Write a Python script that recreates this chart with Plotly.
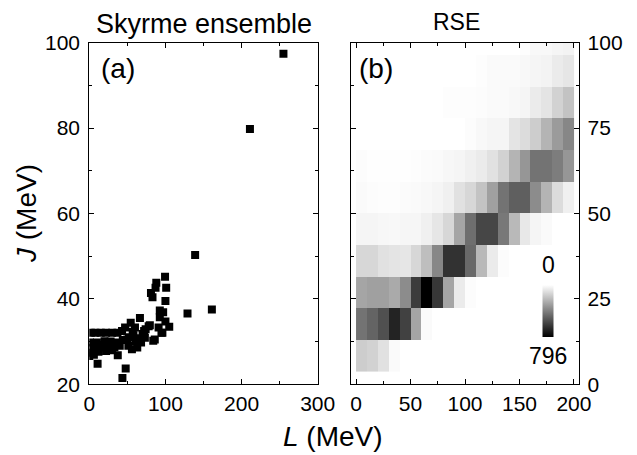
import plotly.graph_objects as go

# ---------------- data ----------------
# Panel (a): Skyrme ensemble, slope L (MeV) vs symmetry energy J (MeV)
L_skyrme = [255, 211, 139, 161, 129,
            99.5, 88, 87, 101, 81, 83, 100, 92.6, 97, 92.6, 100, 105, 94.8, 86,
            79.5, 66.5, 54.4, 47, 60, 63, 51.3, 37.4, 10.9, 47.8, 43.5,
            73, 91, 96, 74, 61, 50, 68, 78,
            2, 8, 15, 22, 30, 37, 43,
            1, 10, 20, 28, 36, 44, 52, 58, 70,
            5, 15, 25, 33, 40, 56,
            2, 12, 22, 30,
            0, 6, 18, 26, 65, 84, 57, 72]
J_skyrme = [97.4, 79.8, 50.3, 37.5, 36.6,
            45.2, 43.8, 42.6, 42.6, 41.4, 40.4, 39.5, 37.3, 36.9, 35.7, 34.7, 33.5, 32.1, 30.5,
            33.8, 35.5, 34.4, 33.3, 33.3, 28.6, 29.0, 26.8, 24.8, 23.7, 21.5,
            30.9, 33.3, 32.1, 32.9, 30.1, 30.5, 29.8, 33.6,
            32.1, 32.1, 32.1, 32.1, 32.1, 32.1, 32.5,
            29.8, 29.8, 30.1, 30.0, 29.8, 30.4, 31.0, 31.5, 31.8,
            28.5, 28.6, 28.4, 28.7, 29.0, 28.2,
            27.4, 27.6, 27.8, 28.0,
            26.6, 26.9, 29.2, 29.4, 30.8, 30.2, 32.3, 32.5]

# Panel (b): RSE histogram, L bins (MeV) and J bins (MeV), counts per cell
L_edges = [0, 10, 20, 30, 40, 50, 60, 70, 80, 90, 100,
           110, 120, 130, 140, 150, 160, 170, 180, 190, 200]
J_edges = [3.7, 13.0, 22.2, 31.5, 40.7, 50.0, 59.3, 68.5, 77.8, 87.0, 96.3, 105.6]
rse_counts = [
    [156, 140, 94, 16, 0, 0, 0, 0, 0, 0, 0, 0, 0, 0, 0, 0, 0, 0, 0, 0],
    [437, 484, 546, 687, 593, 281, 16, 0, 0, 0, 0, 0, 0, 0, 0, 0, 0, 0, 0, 0],
    [281, 297, 297, 265, 359, 609, 796, 624, 281, 62, 9, 0, 0, 0, 0, 0, 0, 0, 0, 0],
    [125, 125, 94, 84, 78, 125, 203, 375, 640, 640, 468, 219, 62, 9, 0, 0, 0, 0, 0, 0],
    [31, 31, 25, 22, 28, 28, 47, 78, 125, 281, 453, 577, 577, 421, 219, 72, 31, 16, 0, 0],
    [16, 9, 6, 6, 12, 16, 22, 31, 47, 94, 125, 187, 297, 437, 499, 499, 359, 234, 109, 47],
    [9, 3, 3, 3, 3, 6, 12, 16, 25, 31, 47, 62, 94, 140, 234, 328, 437, 437, 406, 328],
    [0, 0, 0, 0, 0, 0, 0, 0, 0, 0, 9, 22, 31, 31, 84, 109, 156, 234, 312, 375],
    [0, 0, 0, 0, 0, 0, 0, 0, 6, 6, 6, 9, 16, 16, 22, 31, 62, 84, 140, 187],
    [0, 0, 0, 0, 0, 0, 0, 0, 0, 0, 0, 6, 16, 16, 16, 22, 31, 37, 62, 78],
    [0, 0, 0, 0, 0, 0, 0, 0, 0, 0, 0, 0, 0, 0, 0, 6, 22, 22, 31, 37],
]
count_min, count_max = 0, 796

left_xticks = [0, 100, 200, 300]
left_yticks = [20, 40, 60, 80, 100]
right_xticks = [0, 50, 100, 150, 200]
right_yticks = [0, 25, 50, 75, 100]

# ---------------- figure ----------------
# the page body has an 8 px margin, so the figure is drawn 8 px smaller and
# every target pixel position is shifted by that offset
OFF = 8
W, H = 637 - OFF, 455 - OFF
FONT = "Liberation Sans, Arial, sans-serif"
TICKFONT = dict(family=FONT, size=21, color="black")


def px_x(p):
    return (p - OFF) / W


def px_y(p):
    return 1 - (p - OFF) / H


fig = go.Figure()

fig.add_trace(go.Scatter(
    x=L_skyrme, y=J_skyrme, mode="markers",
    marker=dict(symbol="square", size=8, color="black", line=dict(width=0)),
    xaxis="x", yaxis="y", showlegend=False,
))

# plotted as negative counts so that the colour bar runs 0 (top) -> max (bottom)
fig.add_trace(go.Heatmap(
    x=L_edges, y=J_edges,
    z=[[-v for v in row] for row in rse_counts],
    zmin=-count_max, zmax=-count_min,
    colorscale=[[0, "black"], [1, "white"]],
    xaxis="x2", yaxis="y2",
    colorbar=dict(
        x=px_x(548), xanchor="center", y=px_y(311), yanchor="middle",
        thickness=11, len=52, lenmode="pixels", xpad=0, ypad=0,
        outlinewidth=0, ticks="", showticklabels=False,
    ),
))

axis_common = dict(
    showline=True, linecolor="black", linewidth=1.2, mirror="ticks",
    ticks="inside", ticklen=5, tickwidth=1.2, tickcolor="black",
    showgrid=False, zeroline=False, tickfont=TICKFONT, automargin=False,
)
minor_common = dict(ticks="inside", ticklen=3, tickcolor="black", tickwidth=1.2)

ydom = [px_y(384.3), px_y(42.7)]
fig.update_layout(
    width=W, height=H,
    margin=dict(l=0, r=0, t=0, b=0, autoexpand=False),
    paper_bgcolor="white", plot_bgcolor="white",
    font=dict(family=FONT, color="black"),
    xaxis=dict(domain=[px_x(89.3), px_x(317.7)], range=[0, 300], tickvals=left_xticks,
               minor=dict(dtick=50, **minor_common), ticklabelstandoff=0,
               anchor="y", **axis_common),
    yaxis=dict(domain=ydom, range=[20, 100], tickvals=left_yticks,
               minor=dict(dtick=10, **minor_common), ticklabelstandoff=4,
               anchor="x", **axis_common),
    xaxis2=dict(domain=[px_x(350.7), px_x(579.3)], range=[-4.9, 204.9], tickvals=right_xticks,
                minor=dict(dtick=25, **minor_common), ticklabelstandoff=0,
                anchor="y2", **axis_common),
    yaxis2=dict(domain=ydom, range=[0, 100], tickvals=right_yticks, side="right",
                minor=dict(dtick=12.5, **minor_common), ticklabelstandoff=3,
                anchor="x2", **axis_common),
)

ann = [
    dict(text="Skyrme ensemble", x=px_x(204), y=1, yanchor="top", font=dict(size=27)),
    dict(text="RSE", x=px_x(457), y=1, yanchor="top", font=dict(size=23)),
    dict(text="(a)", x=px_x(118), y=px_y(68), yanchor="middle", font=dict(size=28)),
    dict(text="(b)", x=px_x(376), y=px_y(68), yanchor="middle", font=dict(size=28)),
    dict(text="<i>L</i> (MeV)", x=px_x(333), y=px_y(436), yanchor="middle", font=dict(size=28)),
    dict(text="<i>J</i> (MeV)", x=px_x(26), y=px_y(214), yanchor="middle", font=dict(size=28),
         textangle=-90),
    dict(text=str(count_min), x=px_x(548), y=px_y(265), yanchor="middle", font=dict(size=23)),
    dict(text=str(count_max), x=px_x(548), y=px_y(356), yanchor="middle", font=dict(size=23)),
]
for a in ann:
    fig.add_annotation(xref="paper", yref="paper", showarrow=False,
                       xanchor="center", borderpad=0, **a)

fig.write_html("out.html")
